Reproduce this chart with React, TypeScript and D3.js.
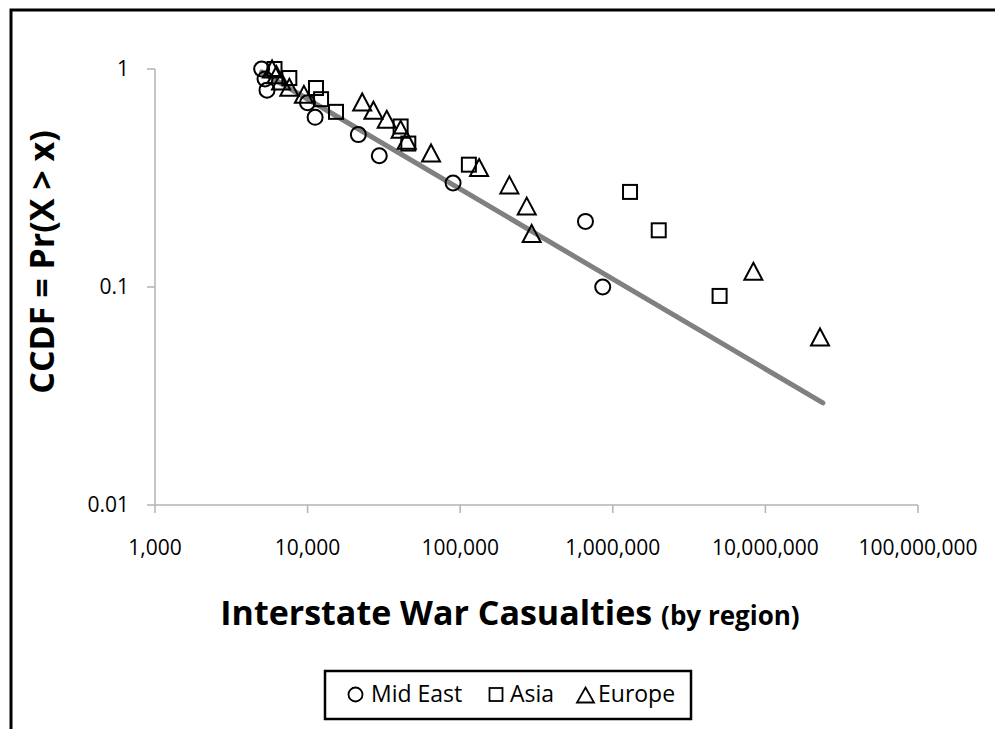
import * as d3 from "d3";

// CCDF of interstate war casualties, by region
const midEastX = [5000, 5260, 5420, 9980, 11200, 21500, 29500, 89800, 662000, 859000];
const midEastY = [1.0, 0.9, 0.8, 0.7, 0.6, 0.5, 0.4, 0.3, 0.2, 0.1];

const asiaX = [6070, 7590, 11350, 12250, 15350, 40700, 45700, 114000, 1297000, 2000000, 5010000];
const asiaY = [1.0, 0.909, 0.818, 0.727, 0.636, 0.545, 0.455, 0.364, 0.273, 0.182, 0.091];

const europeX = [
  5850, 6250, 6700, 7590, 9460, 22800, 27000, 33000, 40700, 44600, 64400, 133000, 210000, 273000, 294000,
  8340000, 22800000,
];
const europeY = [
  1.0, 0.941, 0.882, 0.824, 0.765, 0.706, 0.647, 0.588, 0.529, 0.471, 0.412, 0.353, 0.294, 0.235, 0.176,
  0.118, 0.059,
];

// power-law fit drawn as a straight line in log-log space
const fitX = [5000, 23800000];
const fitY = [0.969, 0.0294];

const xTicks = [1e3, 1e4, 1e5, 1e6, 1e7, 1e8];
const yTicks = [0.01, 0.1, 1];

const legendItems = [
  { label: "Mid East", shape: "circle", mx: 355.5, tx: 371 },
  { label: "Asia", shape: "square", mx: 496, tx: 510 },
  { label: "Europe", shape: "triangle", mx: 585.5, tx: 598 },
];

const W = 995;
const H = 729;
const FONT = "'Open Sans', Lato, sans-serif";
const AXIS = "#b3b3b3";

const x = d3.scaleLog().domain([1000, 1e8]).range([155, 918]);
const y = d3.scaleLog().domain([0.01, 1]).range([505, 69]);
const fmt = d3.format(",");

function tri(w: number, h: number) {
  return `M0,${-h / 2}L${w / 2},${h / 2}L${-w / 2},${h / 2}Z`;
}

export default function App() {
  const line = d3
    .line<number>()
    .x((_, i) => x(fitX[i]))
    .y((d) => y(d));

  return (
    <div style={{ position: "fixed", left: 0, top: 0 }}>
      <svg width={W} height={H} style={{ display: "block", background: "#fff" }}>
        <rect x={11} y={10} width={1000} height={760} fill="none" stroke="#000" strokeWidth={3} />

        {/* axes */}
        <line x1={x(1000)} x2={x(1000)} y1={y(1)} y2={y(0.01)} stroke={AXIS} strokeWidth={1.5} />
        {yTicks.map((t) => (
          <g key={t}>
            <line x1={x(1000) - 8} x2={x(1000)} y1={y(t)} y2={y(t)} stroke={AXIS} strokeWidth={1.5} />
            <text x={129} y={y(t) + 7} textAnchor="end" fontFamily={FONT} fontSize={21} fill="#000">
              {t}
            </text>
          </g>
        ))}
        <line x1={x(1000)} x2={x(1e8)} y1={y(0.01)} y2={y(0.01)} stroke={AXIS} strokeWidth={1.5} />
        {xTicks.map((t) => (
          <g key={t}>
            <line x1={x(t)} x2={x(t)} y1={y(0.01)} y2={y(0.01) + 8} stroke={AXIS} strokeWidth={1.5} />
            <text x={x(t)} y={555} textAnchor="middle" fontFamily={FONT} fontSize={21} fill="#000">
              {fmt(t)}
            </text>
          </g>
        ))}

        {/* fit line */}
        <path d={line(fitY) ?? ""} fill="none" stroke="#808080" strokeWidth={5} strokeLinecap="round" />

        {/* series */}
        {midEastX.map((v, i) => (
          <circle key={"m" + i} cx={x(v)} cy={y(midEastY[i])} r={7.5} fill="none" stroke="#000" strokeWidth={2} />
        ))}
        {asiaX.map((v, i) => (
          <rect
            key={"a" + i}
            x={x(v) - 7}
            y={y(asiaY[i]) - 7}
            width={14}
            height={14}
            fill="none"
            stroke="#000"
            strokeWidth={2}
          />
        ))}
        {europeX.map((v, i) => (
          <path
            key={"e" + i}
            d={tri(18, 17)}
            transform={`translate(${x(v)},${y(europeY[i])})`}
            fill="none"
            stroke="#000"
            strokeWidth={2}
          />
        ))}

        {/* titles */}
        <text
          transform="translate(54,262) rotate(-90)"
          textAnchor="middle"
          fontFamily={FONT}
          fontSize={34}
          fontWeight="bold"
          fill="#000"
        >
          CCDF = Pr(X &gt; x)
        </text>
        <text x={510} y={625} textAnchor="middle" fontFamily={FONT} fontWeight="bold" fill="#000">
          <tspan fontSize={34}>Interstate War Casualties </tspan>
          <tspan fontSize={26}>(by region)</tspan>
        </text>

        {/* legend */}
        <rect x={325} y={671} width={366} height={48} fill="#fff" stroke="#000" strokeWidth={2.5} />
        {legendItems.map((d) => (
          <g key={d.label}>
            {d.shape === "circle" && (
              <circle cx={d.mx} cy={694.5} r={7} fill="none" stroke="#000" strokeWidth={1.8} />
            )}
            {d.shape === "square" && (
              <rect x={d.mx - 6.5} y={688} width={13} height={13} fill="none" stroke="#000" strokeWidth={1.8} />
            )}
            {d.shape === "triangle" && (
              <path d={tri(17, 15)} transform={`translate(${d.mx},695)`} fill="none" stroke="#000" strokeWidth={1.8} />
            )}
            <text x={d.tx} y={702} fontFamily={FONT} fontSize={23} fill="#000">
              {d.label}
            </text>
          </g>
        ))}
      </svg>
    </div>
  );
}
